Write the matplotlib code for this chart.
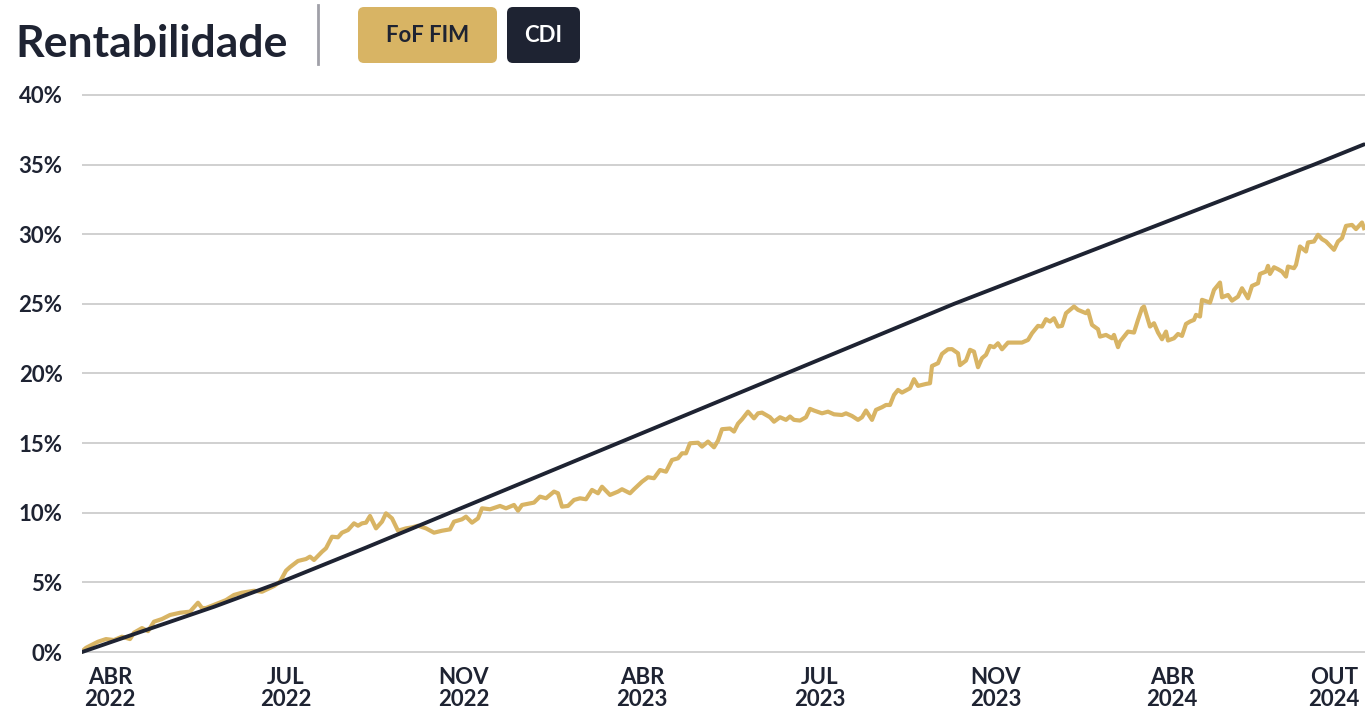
import matplotlib
matplotlib.use("Agg")
import matplotlib.pyplot as plt
from matplotlib.patches import FancyBboxPatch
from matplotlib.lines import Line2D
from matplotlib.transforms import IdentityTransform

# dias úteis desde o início e rentabilidade acumulada (%)
dias_fundo = [0, 2, 4, 8, 12, 16, 20, 24, 26, 30, 33, 36, 40, 44, 49, 54, 58, 60, 62, 68,
              72, 76, 80, 86, 90, 96, 99, 102, 104, 108, 112, 114, 116, 118, 120, 122, 125, 128, 130, 133,
              136, 138, 140, 142, 144, 147, 150, 152, 155, 158, 162, 165, 168, 172, 176, 180, 184, 186, 190, 192,
              195, 198, 200, 204, 209, 212, 216, 218, 220, 226, 229, 232, 236, 238, 240, 243, 246, 249, 252, 255,
              258, 260, 264, 268, 270, 274, 276, 280, 283, 286, 289, 292, 295, 298, 300, 302, 304, 308, 310, 313,
              316, 318, 320, 324, 326, 328, 330, 333, 336, 338, 340, 344, 346, 349, 352, 354, 356, 359, 362, 364,
              366, 370, 373, 376, 380, 382, 385, 388, 390, 392, 395, 397, 400, 402, 404, 406, 408, 410, 414, 416,
              418, 422, 424, 425, 428, 430, 433, 435, 438, 439, 442, 444, 446, 448, 450, 452, 454, 456, 458, 460,
              463, 468, 470, 473, 475, 478, 480, 482, 484, 486, 488, 490, 492, 494, 496, 498, 502, 503, 505, 508,
              509, 512, 515, 516, 518, 519, 521, 523, 526, 528, 530, 531, 532, 534, 536, 538, 540, 542, 543, 546,
              548, 550, 552, 554, 556, 557, 559, 560, 564, 566, 569, 570, 573, 575, 578, 580, 582, 583, 585, 588,
              589, 592, 593, 594, 596, 598, 600, 602, 603, 606, 607, 609, 612, 613, 616, 618, 620, 622, 626, 628,
              630, 632, 635, 637, 640, 641]
fof_fim = [0.05, 0.3, 0.45, 0.74, 0.93, 0.86, 1.1, 0.93, 1.39, 1.72, 1.5, 2.18, 2.37, 2.66, 2.82, 2.9, 3.54, 3.16, 3.16, 3.5,
           3.73, 4.1, 4.26, 4.4, 4.33, 4.74, 5.05, 5.84, 6.1, 6.54, 6.68, 6.85, 6.61, 6.9, 7.2, 7.45, 8.28, 8.24, 8.57, 8.76,
           9.24, 9.07, 9.24, 9.29, 9.77, 8.88, 9.36, 9.96, 9.6, 8.71, 8.88, 8.95, 9.07, 8.88, 8.57, 8.71, 8.81, 9.36, 9.53, 9.72,
           9.29, 9.6, 10.32, 10.25, 10.49, 10.32, 10.56, 10.15, 10.56, 10.73, 11.16, 11.04, 11.52, 11.4, 10.44, 10.49, 10.92, 11.04, 10.97, 11.64,
           11.4, 11.87, 11.28, 11.52, 11.69, 11.4, 11.69, 12.23, 12.55, 12.48, 13.07, 12.95, 13.79, 13.91, 14.27, 14.27, 14.99, 15.03, 14.75, 15.11,
           14.7, 15.18, 16.0, 16.05, 15.83, 16.4, 16.71, 17.26, 16.78, 17.14, 17.19, 16.86, 16.54, 16.86, 16.67, 16.91, 16.67, 16.62, 16.86, 17.46,
           17.34, 17.14, 17.26, 17.07, 17.02, 17.14, 16.95, 16.67, 16.86, 17.34, 16.67, 17.39, 17.58, 17.74, 17.74, 18.46, 18.82, 18.63, 18.94, 19.59,
           19.11, 19.25, 19.3, 20.54, 20.74, 21.41, 21.74, 21.75, 21.45, 20.6, 20.93, 21.7, 21.57, 20.45, 21.1, 21.34, 21.98, 21.89, 22.17, 21.74,
           22.22, 22.22, 22.22, 22.41, 22.89, 23.42, 23.37, 23.9, 23.73, 23.97, 23.37, 23.42, 24.33, 24.57, 24.81, 24.57, 24.33, 24.52, 23.49, 23.18,
           22.65, 22.77, 22.53, 22.77, 21.89, 22.29, 22.65, 23.01, 22.94, 23.85, 24.69, 24.81, 24.33, 23.37, 23.61, 22.94, 22.46, 23.01, 22.37, 22.53,
           22.84, 22.7, 23.56, 23.73, 23.85, 24.21, 24.09, 25.29, 25.09, 26.0, 26.53, 25.47, 25.64, 25.23, 25.52, 26.12, 25.64, 25.4, 26.29, 26.48,
           27.15, 27.32, 27.73, 27.15, 27.63, 27.49, 27.32, 26.96, 27.68, 27.56, 27.8, 29.12, 28.76, 29.41, 29.48, 29.96, 29.65, 29.48, 28.88, 29.48,
           29.72, 30.6, 30.67, 30.37, 30.84, 30.44]

dias_cdi = [0, 32, 66, 99, 142, 184, 226, 268, 310, 352, 394, 436, 481, 526, 571, 616, 641]
cdi = [0, 1.58, 3.25, 5.0, 7.5, 10.0, 12.5, 15.0, 17.5, 20.0, 22.5, 25.0, 27.5, 30.0, 32.5, 35.0, 36.45]

ticks_dias = [14, 102, 191, 280, 369, 457, 545, 626]
ticks_rotulos = ['ABR\n2022', 'JUL\n2022', 'NOV\n2022', 'ABR\n2023', 'JUL\n2023', 'NOV\n2023', 'ABR\n2024', 'OUT\n2024']
y_ticks = [0, 5, 10, 15, 20, 25, 30, 35, 40]

OURO = '#D8B464'
ESCURO = '#1E2332'
FONTE = ['Lato', 'DejaVu Sans']

plt.rcParams['font.family'] = FONTE
plt.rcParams['font.weight'] = 'bold'

fig = plt.figure(figsize=(13.66, 7.16), dpi=100)
ax = fig.add_axes([82 / 1366, 1 - 659 / 716, 1283 / 1366, 571 / 716])

ax.plot(dias_fundo, fof_fim, color=OURO, lw=3.0, solid_joinstyle='round', zorder=3)
ax.plot(dias_cdi, cdi, color=ESCURO, lw=2.8, solid_capstyle='round', zorder=4)

ax.set_xlim(0, 641.5)
ax.set_ylim(-0.5, 40.5)
ax.set_yticks(y_ticks)
ax.set_yticklabels([f'{v}%' for v in y_ticks])
ax.set_xticks(ticks_dias)
ax.set_xticklabels(ticks_rotulos, linespacing=1.05)
ax.grid(axis='y', color='#C8C8C8', lw=1.2)
ax.set_axisbelow(True)
for s in ax.spines.values():
    s.set_visible(False)
ax.tick_params(length=0, labelcolor=ESCURO, labelsize=16)
ax.tick_params(axis='y', pad=14)
ax.tick_params(axis='x', pad=6)

# título e legenda
fig.text(15 / 1366, 1 - 57 / 716, 'Rentabilidade', fontsize=32, fontweight='bold',
         color=ESCURO, va='baseline', ha='left')
fig.add_artist(Line2D([318, 318], [716 - 5, 716 - 64], color='#A0A0A8', lw=2,
                      transform=IdentityTransform()))

for x0, x1, rotulo, cor, cor_txt in [(358, 497, 'FoF FIM', OURO, ESCURO),
                                      (507, 580, 'CDI', ESCURO, 'white')]:
    caixa = FancyBboxPatch((x0, 716 - 63), x1 - x0, 56,
                           boxstyle='round,pad=0,rounding_size=6',
                           fc=cor, ec='none', transform=IdentityTransform())
    fig.add_artist(caixa)
    fig.text((x0 + x1) / 2 / 1366, 1 - 35 / 716, rotulo, fontsize=16, fontweight='bold',
             color=cor_txt, ha='center', va='center')

fig.savefig('out.png', dpi=100)
